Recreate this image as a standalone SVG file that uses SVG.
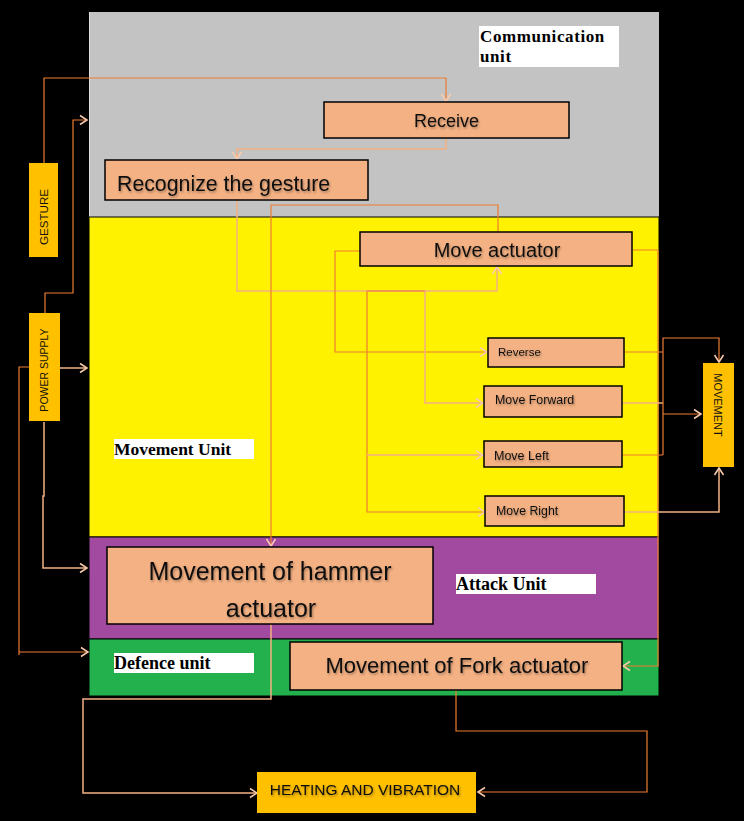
<svg xmlns="http://www.w3.org/2000/svg" width="744" height="821" viewBox="0 0 744 821">
<style>
.box{fill:#F4B183;stroke:#000;stroke-width:1.5}
.obox{fill:#FFC000}
.t{font-family:"Liberation Sans",Arial,sans-serif;fill:#111}
.sh{filter:url(#shadow)}
.lbl{font-family:"Liberation Serif","Times New Roman",serif;font-weight:bold;fill:#000}
.lblbg{fill:#fff}
.c{fill:none;stroke:#ED7D31;stroke-width:1.2}
.p{fill:none;stroke:#F4B183;stroke-width:1.5}
</style>
<defs>
<marker id="a" markerUnits="userSpaceOnUse" markerWidth="12" markerHeight="12" refX="9" refY="6" orient="auto">
<path d="M2,1.5 L9,6 L2,10.5" fill="none" stroke="#F8CBAD" stroke-width="1.5"/>
</marker>
<filter id="shadow" x="-10%" y="-30%" width="120%" height="160%">
<feDropShadow dx="1" dy="1.5" stdDeviation="1" flood-color="#000" flood-opacity="0.35"/>
</filter>
</defs>
<rect width="744" height="821" fill="#000"/>
<g id="units">
<rect x="89" y="12" width="570" height="205" fill="#C3C3C3"/>
<line x1="89.5" y1="12" x2="89.5" y2="696" stroke="#ddd" stroke-width="1"/>
<rect x="89" y="217" width="570" height="320" fill="#FFF200" stroke="#000" stroke-width="1"/>
<rect x="89" y="537" width="570" height="102" fill="#A24A9F" stroke="#000" stroke-width="1"/>
<rect x="89" y="639" width="570" height="57" fill="#22B14C" stroke="#000" stroke-width="1"/>
</g>
<g id="unit-labels">
<rect class="lblbg" x="479" y="26" width="140" height="41"/>
<text class="lbl" x="480" y="42" font-size="17" letter-spacing="0.6">Communication</text>
<text class="lbl" x="480" y="62" font-size="17" letter-spacing="0.6">unit</text>
<rect class="lblbg" x="114" y="439" width="140" height="20"/>
<text class="lbl" x="114" y="455" font-size="17.5">Movement Unit</text>
<rect class="lblbg" x="456" y="574" width="140" height="20"/>
<text class="lbl" x="456" y="590" font-size="18">Attack Unit</text>
<rect class="lblbg" x="114" y="653" width="140" height="20"/>
<text class="lbl" x="114" y="669" font-size="18">Defence unit</text>
</g>
<g id="connectors">
<path class="c" d="M44,163 V78 H446 V101" marker-end="url(#a)"/>
<path class="p" d="M446,138 V149 H237 V159" marker-end="url(#a)"/>
<path class="p" d="M237,200 V291 H497 V267" marker-end="url(#a)"/>
<path class="c" d="M498,232 V205 H271 V546" marker-end="url(#a)"/>
<path class="c" d="M360,251 H335 V352 H487" marker-end="url(#a)"/>
<path class="c" d="M367,291 V512 H485" marker-end="url(#a)"/>
<path class="p" d="M367,455 H483" marker-end="url(#a)"/>
<path class="p" d="M367,291 H425 V403 H483" marker-end="url(#a)"/>
<path class="c" d="M367,291 H425"/>
<path class="c" d="M633,250 H658 V666 H623" marker-end="url(#a)"/>
<path class="c" d="M625,352 H663"/>
<path class="p" d="M622,403 H663"/>
<path class="c" d="M622,455 H663"/>
<path class="c" d="M663,455 V338 H719 V362" marker-end="url(#a)"/>
<path class="c" d="M663,414 H701" marker-end="url(#a)"/>
<path class="p" d="M624,512 H719 V468" marker-end="url(#a)"/>
<path class="c" d="M45,313 V293 H73 V120 H87" marker-end="url(#a)"/>
<path class="p" d="M60,368 H87" marker-end="url(#a)"/>
<path class="p" d="M44,422 V496 H43 V568 H87" marker-end="url(#a)"/>
<path class="c" d="M29,367 H19 V655"/>
<path class="c" d="M19,652 H88" marker-end="url(#a)"/>
<path class="p" d="M271,624 V699 H83 V793 H257" marker-end="url(#a)"/>
<path class="c" d="M456,690 V731 H647 V792 H478" marker-end="url(#a)"/>
</g>
<g id="receive">
<rect class="box" x="324" y="102" width="245" height="36"/>
<text class="t sh" x="446.5" y="127" font-size="18" text-anchor="middle">Receive</text>
</g>
<g id="recognize">
<rect class="box" x="105" y="160" width="263" height="40"/>
<text class="t sh" x="117" y="191" font-size="21.3">Recognize the gesture</text>
</g>
<g id="move-actuator">
<rect class="box" x="360" y="232" width="272" height="34"/>
<text class="t sh" x="497" y="257" font-size="20" text-anchor="middle">Move actuator</text>
</g>
<g id="reverse">
<rect class="box" x="488" y="338" width="136" height="29"/>
<text class="t sh" x="498" y="356" font-size="11.5">Reverse</text>
</g>
<g id="move-forward">
<rect class="box" x="484" y="386" width="138" height="31"/>
<text class="t sh" x="495" y="404" font-size="12.4">Move Forward</text>
</g>
<g id="move-left">
<rect class="box" x="484" y="441" width="138" height="26"/>
<text class="t sh" x="494" y="460" font-size="12.5">Move Left</text>
</g>
<g id="move-right">
<rect class="box" x="485" y="496" width="139" height="30"/>
<text class="t sh" x="496" y="515" font-size="12.3">Move Right</text>
</g>
<g id="hammer">
<rect class="box" x="107" y="547" width="326" height="77"/>
<text class="t sh" x="270" y="580" font-size="25" text-anchor="middle">Movement of hammer</text>
<text class="t sh" x="271" y="617" font-size="25" text-anchor="middle">actuator</text>
</g>
<g id="fork">
<rect class="box" x="290" y="642" width="332" height="48"/>
<text class="t sh" x="457" y="673" font-size="22" text-anchor="middle">Movement of Fork actuator</text>
</g>
<g id="gesture">
<rect class="obox" x="29" y="163" width="29" height="94"/>
<text class="t" transform="translate(48,217) rotate(-90)" font-size="11.6" text-anchor="middle">GESTURE</text>
</g>
<g id="power-supply">
<rect class="obox" x="29" y="313" width="31" height="108"/>
<text class="t" transform="translate(48,370) rotate(-90)" font-size="10.5" text-anchor="middle">POWER SUPPLY</text>
</g>
<g id="movement">
<rect class="obox" x="703" y="363" width="31" height="104"/>
<text class="t" transform="translate(714,405) rotate(90)" font-size="11" text-anchor="middle">MOVEMENT</text>
</g>
<g id="heating">
<rect class="obox" x="257" y="772" width="219" height="41"/>
<text class="t sh" x="365" y="795" font-size="15.5" text-anchor="middle">HEATING AND VIBRATION</text>
</g>
</svg>
